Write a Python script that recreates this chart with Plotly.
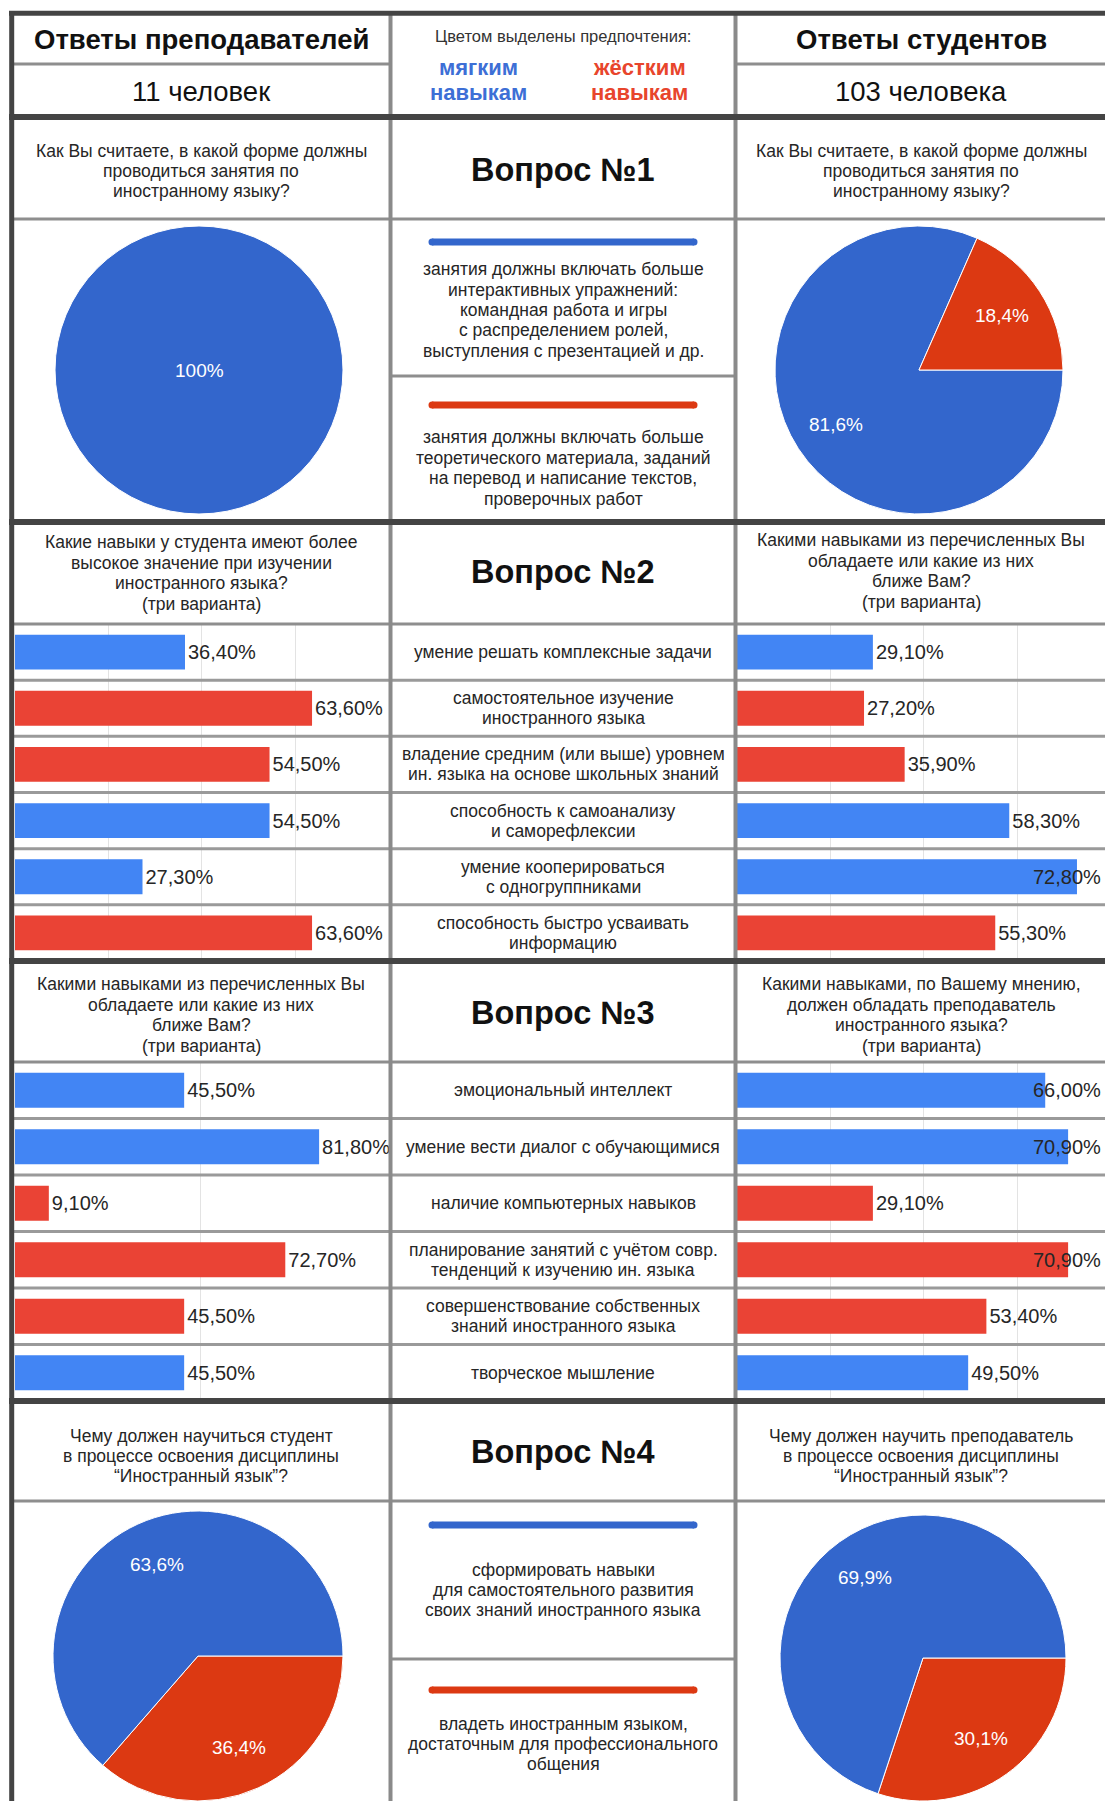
import math
import plotly.graph_objects as go

W, H = 1105, 1801
FONT = "Liberation Sans, Arial, sans-serif"

# ---------------- data ----------------
title_teachers = "Ответы преподавателей"
title_students = "Ответы студентов"
count_teachers = "11 человек"
count_students = "103 человека"
legend_intro = "Цветом выделены предпочтения:"
legend_soft = ["мягким", "навыкам"]
legend_hard = ["жёстким", "навыкам"]

q1_title = "Вопрос №1"
q1_question_teachers = ["Как Вы считаете, в какой форме должны", "проводиться занятия по", "иностранному языку?"]
q1_question_students = ["Как Вы считаете, в какой форме должны", "проводиться занятия по", "иностранному языку?"]
q1_option_soft = ["занятия должны включать больше", "интерактивных упражнений:", "командная работа и игры",
                  "с распределением ролей,", "выступления с презентацией и др."]
q1_option_hard = ["занятия должны включать больше", "теоретического материала, заданий",
                  "на перевод и написание текстов,", "проверочных работ"]
q1_teachers = [100.0, 0.0]   # [мягкие, жёсткие], %
q1_students = [81.6, 18.4]

q2_title = "Вопрос №2"
q2_question_teachers = ["Какие навыки у студента имеют более", "высокое значение при изучении",
                        "иностранного языка?", "(три варианта)"]
q2_question_students = ["Какими навыками из перечисленных Вы", "обладаете или какие из них",
                        "ближе Вам?", "(три варианта)"]
q2_skills = [
    ["умение решать комплексные задачи"],
    ["самостоятельное изучение", "иностранного языка"],
    ["владение средним (или выше) уровнем", "ин. языка на основе школьных знаний"],
    ["способность к самоанализу", "и саморефлексии"],
    ["умение кооперироваться", "с одногруппниками"],
    ["способность быстро усваивать", "информацию"],
]
q2_types = ["soft", "hard", "hard", "soft", "soft", "hard"]
q2_teachers = [36.4, 63.6, 54.5, 54.5, 27.3, 63.6]
q2_students = [29.1, 27.2, 35.9, 58.3, 72.8, 55.3]

q3_title = "Вопрос №3"
q3_question_teachers = ["Какими навыками из перечисленных Вы", "обладаете или какие из них",
                        "ближе Вам?", "(три варианта)"]
q3_question_students = ["Какими навыками, по Вашему мнению,", "должен обладать преподаватель",
                        "иностранного языка?", "(три варианта)"]
q3_skills = [
    ["эмоциональный интеллект"],
    ["умение вести диалог с обучающимися"],
    ["наличие компьютерных навыков"],
    ["планирование занятий с учётом совр.", "тенденций к изучению ин. языка"],
    ["совершенствование собственных", "знаний иностранного языка"],
    ["творческое мышление"],
]
q3_types = ["soft", "soft", "hard", "hard", "hard", "soft"]
q3_teachers = [45.5, 81.8, 9.1, 72.7, 45.5, 45.5]
q3_students = [66.0, 70.9, 29.1, 70.9, 53.4, 49.5]

q4_title = "Вопрос №4"
q4_question_teachers = ["Чему должен научиться студент", "в процессе освоения дисциплины", "“Иностранный язык”?"]
q4_question_students = ["Чему должен научить преподаватель", "в процессе освоения дисциплины", "“Иностранный язык”?"]
q4_option_soft = ["сформировать навыки", "для самостоятельного развития", "своих знаний иностранного языка"]
q4_option_hard = ["владеть иностранным языком,", "достаточным для профессионального", "общения"]
q4_teachers = [63.6, 36.4]   # [мягкие, жёсткие], %
q4_students = [69.9, 30.1]

# ---------------- styles ----------------
PIE_COL = {"soft": "#3366cc", "hard": "#dc3912"}
BAR_COL = {"soft": "#4285f4", "hard": "#ea4335"}
TXT_SOFT = "#3d6fd6"
TXT_HARD = "#e8452c"
THICK = "#444444"
THIN = "#8e8e8e"
TEXT = "#262626"

def fx(x):
    return min(1.0, max(0.0, x / W))

def fy(y):
    return min(1.0, max(0.0, 1 - y / H))

def pie_label(v):
    return f"{v:g}".replace(".", ",") + "%"

def bar_label(v):
    return f"{v:.2f}".replace(".", ",") + "%"

fig = go.Figure()

# ---------------- pies ----------------
def add_pie(values, kinds, cx, cy, r, rotation=90):
    vals = [v for v in values if v > 0]
    cols = [PIE_COL[k] for v, k in zip(values, kinds) if v > 0]
    fig.add_trace(go.Pie(
        values=vals, textinfo="none",
        marker=dict(colors=cols, line=dict(color="white", width=1)),
        sort=False, direction="clockwise", rotation=rotation,
        domain=dict(x=[fx(cx - r), fx(cx + r)], y=[fy(cy + r), fy(cy - r)]),
        hoverinfo="skip", showlegend=False))
    # slice labels at 0.69 radius along each slice's middle angle
    total = sum(vals)
    cum = 0.0
    for v in vals:
        if v >= total:
            lx, ly = cx, cy
        else:
            a = math.radians(rotation + 360.0 * (cum + v / 2) / total)
            lx, ly = cx + 0.69 * r * math.sin(a), cy - 0.69 * r * math.cos(a)
        fig.add_annotation(x=fx(lx), y=fy(ly), xref="paper", yref="paper", text=pie_label(v),
                           showarrow=False, xanchor="center", yanchor="middle",
                           font=dict(size=19, color="white", family=FONT))
        cum += v

add_pie(q1_teachers, ["soft", "hard"], 199, 370, 144)
add_pie(q1_students, ["soft", "hard"], 919, 370, 144)
add_pie(q4_teachers[::-1], ["hard", "soft"], 198, 1656, 145)
add_pie(q4_students[::-1], ["hard", "soft"], 923, 1658, 143)

# ---------------- bars ----------------
Q2_TOP, Q2_BOT = 624, 961
Q3_TOP, Q3_BOT = 1062, 1401
LX0, LX1 = 15, 390.5
RX0, RX1 = 737, 1105
LABEL_W = 70  # approx. pixel width of a value label

def add_bars(values, kinds, n, x0, x1, rmax):
    xa = "x" if n == 1 else f"x{n}"
    ya = "y" if n == 1 else f"y{n}"
    scale = (x1 - x0) / rmax
    fits = [x0 + v * scale + 4 + LABEL_W <= W for v in values]
    fig.add_trace(go.Bar(
        x=values, y=list(range(len(values))), orientation="h",
        marker=dict(color=[BAR_COL[k] for k in kinds], line=dict(width=0)),
        width=0.62, text=[bar_label(v) if f else "" for v, f in zip(values, fits)],
        textposition="outside",
        textfont=dict(size=20, color=TEXT, family=FONT),
        cliponaxis=False, constraintext="none",
        xaxis=xa, yaxis=ya, hoverinfo="skip", showlegend=False))
    # labels that would run past the page edge are right-aligned to the plot edge
    for i, (v, f) in enumerate(zip(values, fits)):
        if not f:
            fig.add_annotation(x=rmax, y=i, xref=xa, yref=ya, text=bar_label(v), showarrow=False,
                               xanchor="right", yanchor="middle", xshift=-2,
                               font=dict(size=20, color=TEXT, family=FONT))

R_L2, R_R2, R_L3, R_R3 = 80.4, 78.8, 101.0, 78.8
add_bars(q2_teachers, q2_types, 1, LX0, LX1, R_L2)
add_bars(q2_students, q2_types, 2, RX0, RX1, R_R2)
add_bars(q3_teachers, q3_types, 3, LX0, LX1, R_L3)
add_bars(q3_students, q3_types, 4, RX0, RX1, R_R3)

def xax(x0, x1, rmax, grid, anchor):
    return dict(domain=[fx(x0), fx(x1)], range=[0, rmax], tickvals=grid, showticklabels=False,
                showgrid=True, gridcolor="#e3e3e3", gridwidth=1, zeroline=False, showline=False,
                ticks="", fixedrange=True, anchor=anchor)

def yax(y0, y1, anchor):
    return dict(domain=[fy(y1), fy(y0)], range=[5.5, -0.5], showticklabels=False, showgrid=False,
                zeroline=False, showline=False, ticks="", fixedrange=True, anchor=anchor)

fig.update_layout(
    xaxis=xax(LX0, LX1, R_L2, [20, 40, 60], "y"),
    yaxis=yax(Q2_TOP, Q2_BOT, "x"),
    xaxis2=xax(RX0, RX1, R_R2, [20, 40, 60], "y2"),
    yaxis2=yax(Q2_TOP, Q2_BOT, "x2"),
    xaxis3=xax(LX0, LX1, R_L3, [50], "y3"),
    yaxis3=yax(Q3_TOP, Q3_BOT, "x3"),
    xaxis4=xax(RX0, RX1, R_R3, [20, 40, 60], "y4"),
    yaxis4=yax(Q3_TOP, Q3_BOT, "x4"),
)

# ---------------- grid lines ----------------
shapes = []

def hline(y, x0, x1, color, w):
    shapes.append(dict(type="line", xref="paper", yref="paper", x0=fx(x0), x1=fx(x1),
                       y0=fy(y), y1=fy(y), line=dict(color=color, width=w), layer="above"))

def vline(x, y0, y1, color, w):
    shapes.append(dict(type="line", xref="paper", yref="paper", x0=fx(x), x1=fx(x),
                       y0=fy(y0), y1=fy(y1), line=dict(color=color, width=w), layer="above"))

COL_L = (12, 390.5)
COL_M = (390.5, 735.5)
COL_R = (735.5, 1105)

for y in [219, 624, 1062, 1501]:
    hline(y, 12, 1105, THIN, 3)
for k in range(1, 6):
    hline(Q2_TOP + k * (Q2_BOT - Q2_TOP) / 6, 12, 1105, "#9a9a9a", 3)
    hline(Q3_TOP + k * (Q3_BOT - Q3_TOP) / 6, 12, 1105, "#9a9a9a", 3)
hline(64, COL_L[0], COL_L[1], THIN, 3)
hline(64, COL_R[0], COL_R[1], THIN, 3)
hline(376, COL_M[0], COL_M[1], THIN, 3)
hline(1659, COL_M[0], COL_M[1], THIN, 3)
vline(390.5, 13, H, "#8a8a8a", 4)
vline(735.5, 13, H, "#8a8a8a", 4)
for y in [117, 522, 961, 1401]:
    hline(y, 9, 1105, THICK, 6)
hline(13.3, 9, 1105, THICK, 5)
vline(11.7, 11, H, THICK, 5)

def legend_bar(y, color):
    x0, x1, w = 432, 694, 7
    shapes.append(dict(type="line", xref="paper", yref="paper", x0=fx(x0), x1=fx(x1),
                       y0=fy(y), y1=fy(y), line=dict(color=color, width=w), layer="above"))
    for xc in (x0, x1):
        shapes.append(dict(type="circle", xref="paper", yref="paper",
                           x0=fx(xc - w / 2), x1=fx(xc + w / 2), y0=fy(y + w / 2), y1=fy(y - w / 2),
                           fillcolor=color, line=dict(width=0), layer="above"))

legend_bar(242, PIE_COL["soft"])
legend_bar(405, PIE_COL["hard"])
legend_bar(1525, PIE_COL["soft"])
legend_bar(1690, PIE_COL["hard"])

fig.update_layout(shapes=shapes)

# ---------------- texts ----------------
def add_text(lines, cx, cy, size, color=TEXT, bold=False, spacing=None):
    if isinstance(lines, str):
        lines = [lines]
    if spacing is None:
        spacing = size * 1.2
    n = len(lines)
    for i, line in enumerate(lines):
        y = cy + (i - (n - 1) / 2) * spacing
        fig.add_annotation(x=fx(cx), y=fy(y), xref="paper", yref="paper",
                           text=f"<b>{line}</b>" if bold else line, showarrow=False,
                           xanchor="center", yanchor="middle",
                           font=dict(size=size, color=color, family=FONT))

CXL, CXM, CXR = 201, 563, 921
HS, QS, SP, TS, MS = 27.5, 17.5, 20.4, 32.5, 17.5

add_text(title_teachers, CXL, 40, HS, "#111111", bold=True)
add_text(count_teachers, CXL, 92, HS, "#111111")
add_text(title_students, CXR, 40, HS, "#111111", bold=True)
add_text(count_students, CXR, 92, HS, "#111111")
add_text(legend_intro, CXM, 36, 16.5, "#333333")
add_text(legend_soft, 478, 80, 22, TXT_SOFT, bold=True, spacing=25)
add_text(legend_hard, 639, 80, 22, TXT_HARD, bold=True, spacing=25)

add_text(q1_question_teachers, CXL, 171, QS, spacing=SP)
add_text(q1_question_students, CXR, 171, QS, spacing=SP)
add_text(q1_title, CXM, 170, TS, "#111111", bold=True)
add_text(q1_option_soft, CXM, 310, QS, spacing=SP)
add_text(q1_option_hard, CXM, 468, QS, spacing=SP)

add_text(q2_question_teachers, CXL, 573, QS, spacing=SP)
add_text(q2_question_students, CXR, 571, QS, spacing=SP)
add_text(q2_title, CXM, 572, TS, "#111111", bold=True)
for k, lines in enumerate(q2_skills):
    cy = Q2_TOP + (k + 0.5) * (Q2_BOT - Q2_TOP) / 6
    add_text(lines, CXM, cy, MS, spacing=20)

add_text(q3_question_teachers, CXL, 1015, QS, spacing=SP)
add_text(q3_question_students, CXR, 1015, QS, spacing=SP)
add_text(q3_title, CXM, 1013, TS, "#111111", bold=True)
for k, lines in enumerate(q3_skills):
    cy = Q3_TOP + (k + 0.5) * (Q3_BOT - Q3_TOP) / 6
    add_text(lines, CXM, cy, MS, spacing=20)

add_text(q4_question_teachers, CXL, 1456, QS, spacing=SP)
add_text(q4_question_students, CXR, 1456, QS, spacing=SP)
add_text(q4_title, CXM, 1452, TS, "#111111", bold=True)
add_text(q4_option_soft, CXM, 1590, QS, spacing=SP)
add_text(q4_option_hard, CXM, 1744, QS, spacing=SP)

fig.update_layout(
    width=W, height=H, margin=dict(l=0, r=0, t=0, b=0),
    paper_bgcolor="white", plot_bgcolor="white",
    font=dict(family=FONT), showlegend=False,
)

fig.write_html(
    "out.html",
    config={"displayModeBar": False, "staticPlot": True},
    post_script="document.body.style.margin='0px';document.body.style.padding='0px';"
                "document.body.style.overflow='hidden';",
)
